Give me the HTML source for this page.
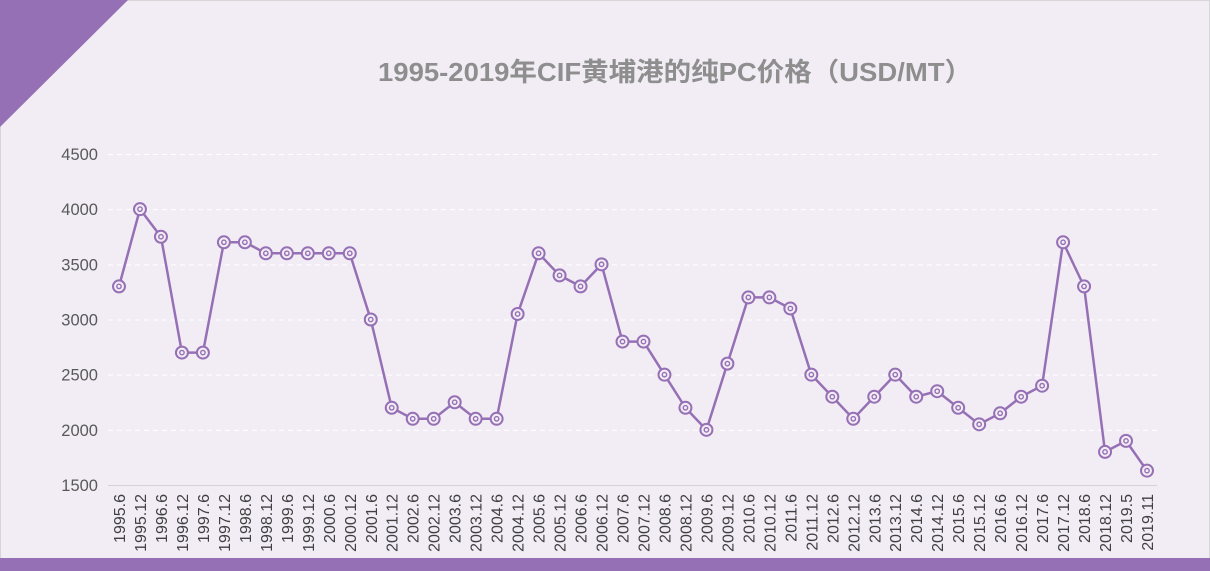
<!DOCTYPE html>
<html><head><meta charset="utf-8"><style>
html,body{margin:0;padding:0;background:#f2edf5;}
svg{display:block;}
</style></head><body>
<svg width="1210" height="571" xmlns="http://www.w3.org/2000/svg">
<rect x="0.5" y="0.5" width="1209" height="570" fill="#f2edf5" stroke="#d6d6d6"/>
<polygon points="0,0 128,0 0,127" fill="#9670b5"/>
<rect x="0" y="558" width="1210" height="13" fill="#9670b5"/>
<text x="378" y="81" font-family="'Liberation Sans','Noto Sans CJK SC',sans-serif" font-size="26" font-weight="bold" fill="#8e8e8e" textLength="594" lengthAdjust="spacingAndGlyphs">1995-2019年CIF黄埔港的纯PC价格（USD/MT）</text>
<g id="grid" stroke="#ffffff" stroke-width="1" stroke-dasharray="5,4"></g>
<line x1="108" y1="485.5" x2="1157" y2="485.5" stroke="#d4d0d8"/>
<g id="yl" font-family="'Liberation Sans',sans-serif" font-size="16.5" fill="#595959" text-anchor="end"></g>
<g id="xl" font-family="'Liberation Sans',sans-serif" font-size="16" fill="#404040" text-anchor="end"></g>
<polyline id="ln" fill="none" stroke="#9670b5" stroke-width="2.5" stroke-linejoin="round"/>
<g id="mk"></g>
</svg>
<script>
var v=[3300,4000,3750,2700,2700,3700,3700,3600,3600,3600,3600,3600,3000,2200,2100,2100,2250,2100,2100,3050,3600,3400,3300,3500,2800,2800,2500,2200,2000,2600,3200,3200,3100,2500,2300,2100,2300,2500,2300,2350,2200,2050,2150,2300,2400,3700,3300,1800,1900,1630];
var lab=[];for(var y=1995;y<=2018;y++){lab.push(y+'.6');lab.push(y+'.12');}lab.push('2019.5');lab.push('2019.11');
var ns='http://www.w3.org/2000/svg';
function Y(val){return 485-(val-1500)*331/3000;}
function X(i){return 119+i*(1147-119)/49;}
var g=document.getElementById('grid'),yl=document.getElementById('yl'),xl=document.getElementById('xl');
for(var t=1500;t<=4500;t+=500){var yy=Y(t);
 if(t>1500){var l=document.createElementNS(ns,'line');l.setAttribute('x1',108);l.setAttribute('x2',1157);l.setAttribute('y1',yy+0.5);l.setAttribute('y2',yy+0.5);g.appendChild(l);}
 var tx=document.createElementNS(ns,'text');tx.setAttribute('x',98);tx.setAttribute('y',yy+6);tx.textContent=t;yl.appendChild(tx);}
var pts=[],mk=document.getElementById('mk');
for(var i=0;i<v.length;i++){var x=X(i),y=Y(v[i]);pts.push(x+','+y);
 var c=document.createElementNS(ns,'circle');c.setAttribute('cx',x);c.setAttribute('cy',y);c.setAttribute('r',6);c.setAttribute('fill','#f2edf5');c.setAttribute('stroke','#9670b5');c.setAttribute('stroke-width','2');mk.appendChild(c);
 var c2=document.createElementNS(ns,'circle');c2.setAttribute('cx',x);c2.setAttribute('cy',y);c2.setAttribute('r',2.2);c2.setAttribute('fill','none');c2.setAttribute('stroke','#9670b5');c2.setAttribute('stroke-width','1.4');mk.appendChild(c2);
 var tx=document.createElementNS(ns,'text');tx.setAttribute('transform','translate('+(x+6)+',494) rotate(-90)');tx.textContent=lab[i];xl.appendChild(tx);}
document.getElementById('ln').setAttribute('points',pts.join(' '));
</script>
</body></html>
